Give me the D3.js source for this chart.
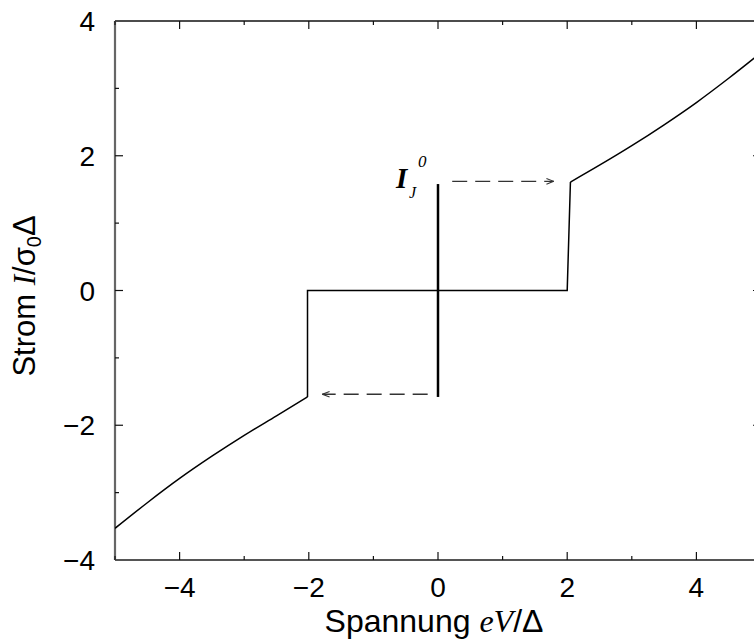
<!DOCTYPE html>
<html>
<head>
<meta charset="utf-8">
<script src="https://cdn.jsdelivr.net/npm/d3@7"></script>
<style>
  body { margin: 0; background: #fff; }
  svg { display: block; overflow: hidden; }
</style>
</head>
<body>
<div class="chart"></div>
<script>
// quasiparticle branches (eV/Delta, I/sigma0 Delta)
var leftV = [-5, -4.5, -4, -3.5, -3, -2.5, -2.02];
var leftI = [-3.53, -3.15, -2.79, -2.46, -2.15, -1.86, -1.58];
var rightV = [2.05, 2.5, 3, 3.5, 4, 4.5, 5];
var rightI = [1.61, 1.86, 2.15, 2.46, 2.79, 3.15, 3.53];
// the step through the gap
var stepV = [-2.02, -2.02, 2.0, 2.05];
var stepI = [-1.58, 0, 0, 1.61];

// Josephson supercurrent at V = 0
var josephsonV = [0, 0];
var josephsonI = [-1.58, 1.58];

// dashed switching arrows
var arrowFromV = [0.22, -0.16];
var arrowFromI = [1.62, -1.54];
var arrowToV = [1.79, -1.79];
var arrowToI = [1.62, -1.54];

var xTicks = [-4, -2, 0, 2, 4];
var yTicks = [-4, -2, 0, 2, 4];
var xMinor = [-5, -3, -1, 1, 3, 5];
var yMinor = [-3, -1, 1, 3];

var margin = { left: 115, right: -7, top: 21, bottom: 81 };
var W = 754, H = 641;
var width = W - margin.left - margin.right,
    height = H - margin.top - margin.bottom;

var svg = d3.select(".chart")
    .append("svg")
    .attr("width", W)
    .attr("height", H);

var x = d3.scaleLinear().domain([-5, 5]).range([0, width]);
var y = d3.scaleLinear().domain([-4, 4]).range([height, 0]);

var g = svg.append("g")
    .attr("transform", "translate(" + margin.left + "," + margin.top + ")");

// arrow marker (open chevron)
svg.append("defs").append("marker")
    .attr("id", "chev")
    .attr("viewBox", "0 0 10 10")
    .attr("refX", 10).attr("refY", 5)
    .attr("markerWidth", 8).attr("markerHeight", 8)
    .attr("markerUnits", "userSpaceOnUse")
    .attr("orient", "auto")
    .append("path")
    .attr("d", "M1,1.5 L10,5 L1,8.5")
    .attr("fill", "none")
    .attr("stroke", "#333")
    .attr("stroke-width", 1.3);

// frame: left/bottom heavier grey, top/right thin black
g.append("line").attr("x1", 0).attr("x2", width).attr("y1", 0).attr("y2", 0)
    .attr("stroke", "#111").attr("stroke-width", 1.3);
g.append("line").attr("x1", width).attr("x2", width).attr("y1", 0).attr("y2", height)
    .attr("stroke", "#111").attr("stroke-width", 1.3);
g.append("line").attr("x1", 0).attr("x2", width).attr("y1", height).attr("y2", height)
    .attr("stroke", "#555").attr("stroke-width", 2);
g.append("line").attr("x1", 0).attr("x2", 0).attr("y1", 0).attr("y2", height)
    .attr("stroke", "#666").attr("stroke-width", 2.2);

// ticks (inward), on all four sides
function tickLines(vals, len, horizontal) {
    vals.forEach(function (v) {
        if (horizontal) {
            g.append("line").attr("x1", x(v)).attr("x2", x(v)).attr("y1", height).attr("y2", height - len)
                .attr("stroke", "#111").attr("stroke-width", 1.2);
            g.append("line").attr("x1", x(v)).attr("x2", x(v)).attr("y1", 0).attr("y2", len)
                .attr("stroke", "#111").attr("stroke-width", 1.2);
        } else {
            g.append("line").attr("x1", 0).attr("x2", len).attr("y1", y(v)).attr("y2", y(v))
                .attr("stroke", "#111").attr("stroke-width", 1.2);
            g.append("line").attr("x1", width).attr("x2", width - len).attr("y1", y(v)).attr("y2", y(v))
                .attr("stroke", "#111").attr("stroke-width", 1.2);
        }
    });
}
tickLines(xTicks, 8, true);
tickLines(xMinor, 4, true);
tickLines(yTicks.slice(1, -1), 8, false);
tickLines(yMinor, 4, false);

// tick labels
var fmt = function (d) { return d < 0 ? "\u2212" + Math.abs(d) : String(d); };
g.selectAll(".xlab").data(xTicks).enter().append("text")
    .attr("x", function (d) { return x(d); })
    .attr("y", height + 37)
    .attr("text-anchor", "middle")
    .attr("font-family", "Liberation Sans, Arial, sans-serif")
    .attr("font-size", 28)
    .text(fmt);
g.selectAll(".ylab").data(yTicks).enter().append("text")
    .attr("x", -20)
    .attr("y", function (d) { return y(d) + 10; })
    .attr("text-anchor", "end")
    .attr("font-family", "Liberation Sans, Arial, sans-serif")
    .attr("font-size", 28)
    .text(fmt);

// axis titles
var xt = svg.append("text")
    .attr("x", 434)
    .attr("y", 632)
    .attr("text-anchor", "middle")
    .attr("font-family", "Liberation Sans, Arial, sans-serif")
    .attr("font-size", 32);
xt.append("tspan").text("Spannung ");
xt.append("tspan").attr("font-family", "Liberation Serif, serif").attr("font-style", "italic").text("eV");
xt.append("tspan").text("/\u0394");

var yt = svg.append("text")
    .attr("transform", "translate(35,296) rotate(-90)")
    .attr("text-anchor", "middle")
    .attr("font-family", "Liberation Sans, Arial, sans-serif")
    .attr("font-size", 31);
yt.append("tspan").text("Strom ");
yt.append("tspan").attr("font-family", "Liberation Serif, serif").attr("font-style", "italic").text("I");
yt.append("tspan").text("/\u03c3");
yt.append("tspan").attr("font-size", 20).attr("dy", 6).text("0");
yt.append("tspan").attr("dy", -6).text("\u0394");

// clip to plot area
svg.append("clipPath").attr("id", "plotclip").append("rect")
    .attr("x", 0).attr("y", 0).attr("width", width).attr("height", height);
var plot = g.append("g").attr("clip-path", "url(#plotclip)");

var line = d3.line()
    .x(function (d) { return x(d[0]); })
    .y(function (d) { return y(d[1]); });
var smooth = d3.line()
    .x(function (d) { return x(d[0]); })
    .y(function (d) { return y(d[1]); })
    .curve(d3.curveMonotoneX);

function pairs(a, b) { return a.map(function (v, i) { return [v, b[i]]; }); }

[pairs(leftV, leftI), pairs(rightV, rightI)].forEach(function (d) {
    plot.append("path")
        .datum(d)
        .attr("d", smooth)
        .attr("fill", "none")
        .attr("stroke", "#000")
        .attr("stroke-width", 1.5);
});
plot.append("path")
    .datum(pairs(stepV, stepI))
    .attr("d", line)
    .attr("fill", "none")
    .attr("stroke", "#000")
    .attr("stroke-width", 1.5)
    .attr("stroke-linejoin", "miter");

plot.append("path")
    .datum(pairs(josephsonV, josephsonI))
    .attr("d", line)
    .attr("fill", "none")
    .attr("stroke", "#000")
    .attr("stroke-width", 2.5);

arrowFromV.forEach(function (v, i) {
    plot.append("line")
        .attr("x1", x(v)).attr("y1", y(arrowFromI[i]))
        .attr("x2", x(arrowToV[i])).attr("y2", y(arrowToI[i]))
        .attr("stroke", "#333")
        .attr("stroke-width", 1.3)
        .attr("stroke-dasharray", "15,8")
        .attr("marker-end", "url(#chev)");
});

// I_J^0 label
var lx = x(0) - 42, ly = y(josephsonI[1]);
var lab = g.append("g").attr("font-family", "Liberation Serif, serif").attr("font-style", "italic");
lab.append("text").attr("x", lx).attr("y", ly + 4).attr("font-size", 29).attr("font-weight", "bold").text("I");
lab.append("text").attr("x", lx + 13).attr("y", ly + 14).attr("font-size", 16).text("J");
lab.append("text").attr("x", lx + 22).attr("y", ly - 17).attr("font-size", 17).text("0");
</script>
</body>
</html>
